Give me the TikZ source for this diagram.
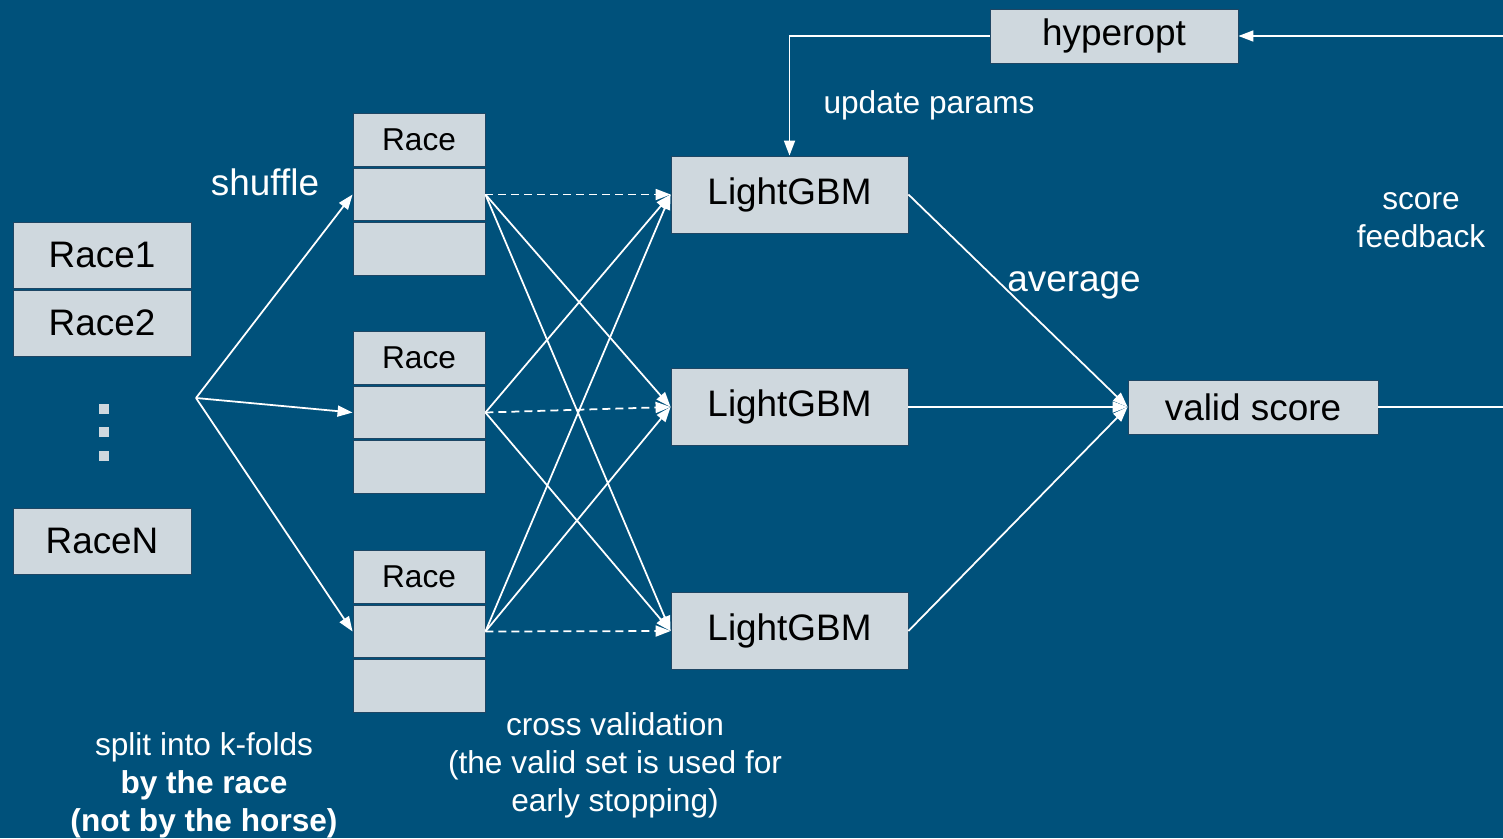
\documentclass[tikz,border=0pt]{standalone}
\usepackage{fontspec}
\setmainfont{Liberation Sans}
\usetikzlibrary{arrows.meta}
\definecolor{slidebg}{RGB}{0,81,123}
\definecolor{cellfill}{RGB}{207,216,222}
\definecolor{cellline}{RGB}{30,70,100}

\begin{document}
\begin{tikzpicture}[
        x=0.02cm, y=-0.02cm,
        cellbox/.style={draw=cellline, line width=0.5pt, fill=cellfill, text=black, inner sep=0pt},
        racebox/.style={cellbox, minimum width=3.56cm, minimum height=1.32cm, font=\fontsize{21}{25}\selectfont},
        foldcell/.style={cellbox, minimum width=2.64cm, minimum height=1.05cm, font=\fontsize{18}{22}\selectfont},
        modelbox/.style={cellbox, minimum width=4.74cm, minimum height=1.54cm, font=\fontsize{21}{25}\selectfont},
        scorebox/.style={cellbox, minimum width=5cm, minimum height=1.08cm, font=\fontsize{21}{25}\selectfont},
        flow/.style={draw=white, line width=1pt, -{Triangle[length=0.3cm,width=0.22cm]}},
        cvflow/.style={flow, dash pattern=on 0.16cm off 0.1cm},
        note/.style={text=white, align=center, inner sep=0pt, font=\fontsize{18}{21.6}\selectfont},
        bignote/.style={note, font=\fontsize{21}{25}\selectfont}
      ]
      \useasboundingbox (0,0) rectangle (1503,838);
      \clip (0,0) rectangle (1503,838);
      \fill[slidebg] (0,0) rectangle (1503,838);

      \node[racebox] (race1) at (102,255) {Race1};
      \node[racebox] (race2) at (102,323) {Race2};
      \node[racebox] (raceN) at (102,541) {RaceN};
      \foreach \k/\y in {1/409,2/432,3/456}
        \node[fill=cellfill, minimum size=0.2cm, inner sep=0pt] (dot\k) at (104,\y) {};

      \foreach \g/\y in {1/140,2/358,3/577} {
        \node[foldcell] (hd\g) at (419,\y) {Race};
        \node[foldcell] (va\g) at (419,\y+54.5) {};
        \node[foldcell] (tr\g) at (419,\y+109) {};
      }

      \node[modelbox] (m1) at (789.5,194.5) {LightGBM};
      \node[modelbox] (m2) at (789.5,407) {LightGBM};
      \node[modelbox] (m3) at (789.5,631) {LightGBM};
      \node[scorebox] (vs) at (1253,407) {valid score};
      \node[scorebox, minimum width=4.96cm] (hyp) at (1114,36) {hyperopt};

      \coordinate (fork) at (196,398);
      \foreach \g in {1,2,3}
        \draw[flow] (fork) -- (va\g.west);

      \foreach \g in {1,2,3}
        \draw[cvflow] (va\g.east) -- (m\g.west);
      \foreach \g/\j in {1/2,1/3,2/1,2/3,3/1,3/2}
        \draw[flow] (va\g.east) -- (m\j.west);

      \foreach \j in {1,2,3}
        \draw[flow] (m\j.east) -- (vs.west);

      \coordinate (fbout) at (1530,407);
      \coordinate (fbin) at (1530,36);
      \draw[flow] (vs.east) -- (fbout) -- (fbin) -- (hyp.east);
      \draw[flow] (hyp.west) -| (m1.north);

      \node[bignote] (shuf) at (265,182) {shuffle};
      \node[note] (upd) at (929,105) {update params};
      \node[bignote] (avg) at (1074,285) {average};
      \node[note] (fb) at (1421,220) {score\\feedback};
      \node[note] (split) at (204,785) {split into k-folds\\\textbf{by the race}\\\textbf{(not by the horse)}};
      \node[note] (cv) at (615,765) {cross validation\\(the valid set is used for\\early stopping)};
      \end{tikzpicture}
\end{document}
